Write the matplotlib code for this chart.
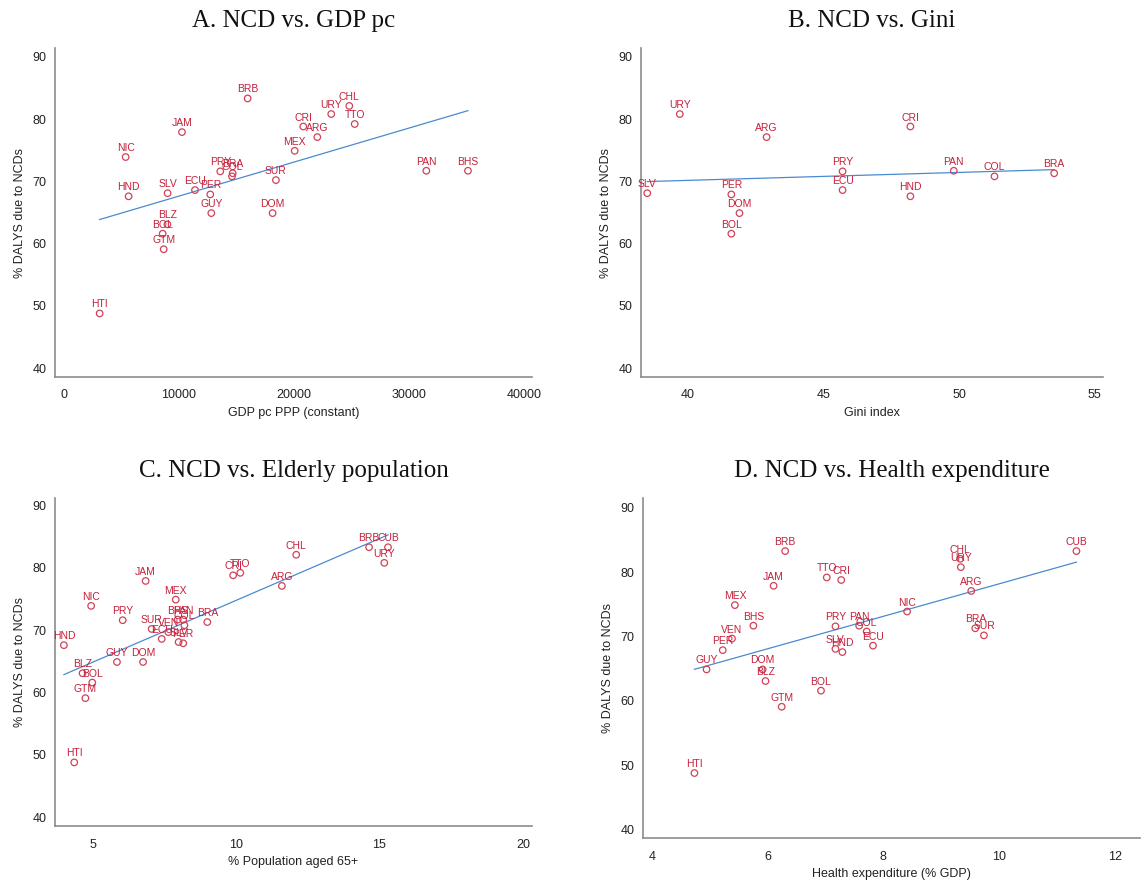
import numpy as np
import matplotlib
matplotlib.use("Agg")
import matplotlib.pyplot as plt

countries = ["ARG", "BHS", "BLZ", "BOL", "BRA", "BRB", "CHL", "COL", "CRI", "CUB",
             "DOM", "ECU", "GTM", "GUY", "HND", "HTI", "JAM", "MEX", "NIC", "PAN",
             "PER", "PRY", "SLV", "SUR", "TTO", "URY", "VEN"]
ncd_dalys = [77.1, 71.7, 63.1, 61.6, 71.3, 83.3, 82.1, 70.8, 78.8, 83.3,
             64.9, 68.6, 59.1, 64.9, 67.6, 48.8, 77.9, 74.9, 73.9, 71.7,
             67.9, 71.6, 68.1, 70.2, 79.2, 80.8, 69.7]
gdp_pc = [22030, 35130, 8990, 8580, 14670, 15970, 24810, 14610, 20810, None,
          18140, 11390, 8670, 12810, 5620, 3100, 10260, 20060, 5360, 31510,
          12720, 13590, 9010, 18430, 25280, 23240, None]
gini = [42.9, None, None, 41.6, 53.5, None, None, 51.3, 48.2, None,
        41.9, 45.7, None, None, 48.2, None, None, None, None, 49.8,
        41.6, 45.7, 38.5, None, None, 39.7, None]
elderly = [11.6, 7.97, 4.65, 4.99, 9.0, 14.64, 12.1, 8.2, 9.9, 15.3,
           6.76, 7.41, 4.75, 5.85, 4.0, 4.36, 6.85, 7.9, 4.95, 8.16,
           8.16, 6.05, 8.0, 7.06, 10.15, 15.17, 7.64]
health_exp = [9.52, 5.75, 5.96, 6.92, 9.59, 6.30, 9.33, 7.71, 7.27, 11.34,
              5.91, 7.82, 6.24, 4.94, 7.29, 4.73, 6.10, 5.43, 8.41, 7.58,
              5.22, 7.17, 7.17, 9.74, 7.02, 9.34, 5.38]

titles = ["A. NCD vs. GDP pc", "B. NCD vs. Gini",
          "C. NCD vs. Elderly population", "D. NCD vs. Health expenditure"]
xlabels = ["GDP pc PPP (constant)", "Gini index",
           "% Population aged 65+", "Health expenditure (% GDP)"]
ylabel = "% DALYS due to NCDs"
yticks = [40, 50, 60, 70, 80, 90]
xticks_list = [[0, 10000, 20000, 30000, 40000], [40, 45, 50, 55],
               [5, 10, 15, 20], [4, 6, 8, 10, 12]]

W, H = 1145, 889
fig = plt.figure(figsize=(W / 100, H / 100), dpi=100)

# axes boxes in pixels: left, top, right, bottom
boxes = [(55, 48, 532, 377), (641, 48, 1103, 377),
         (55, 498, 532, 826), (643, 498, 1140, 838)]
xlims = [(-783, 40700), (38.27, 55.3), (3.69, 20.32), (3.84, 12.44)]
ylims = [(38.6, 91.4), (38.6, 91.4), (38.6, 91.2), (38.7, 91.55)]
xdata = [gdp_pc, gini, elderly, health_exp]

red_text = "#C4203A"
red_marker = "#CF4257"
line_col = "#4A8AD0"
spine_col = "#8C8C8C"
sans = "Liberation Sans"
serif = "Liberation Serif"

for i in range(4):
    l, t, r, b = boxes[i]
    ax = fig.add_axes([l / W, 1 - b / H, (r - l) / W, (b - t) / H])
    xs, ys, labs = [], [], []
    for c, xv, yv in zip(countries, xdata[i], ncd_dalys):
        if xv is not None:
            xs.append(xv); ys.append(yv); labs.append(c)
    xs = np.array(xs, float); ys = np.array(ys, float)
    ax.scatter(xs, ys, s=22, facecolors="none", edgecolors=red_marker,
               linewidths=0.9, zorder=3)
    for x, y, lab in zip(xs, ys, labs):
        ax.annotate(lab, (x, y), xytext=(0, 4.3), textcoords="offset points",
                    ha="center", va="baseline", fontsize=7.5, color=red_text,
                    family=sans, zorder=4)
    k, c0 = np.polyfit(xs, ys, 1)
    xx = np.array([xs.min(), xs.max()])
    ax.plot(xx, k * xx + c0, color=line_col, lw=0.9, zorder=2)

    ax.set_xlim(*xlims[i]); ax.set_ylim(*ylims[i])
    ax.set_xticks(xticks_list[i]); ax.set_yticks(yticks)
    for s in ["top", "right"]:
        ax.spines[s].set_visible(False)
    for s in ["left", "bottom"]:
        ax.spines[s].set_color(spine_col)
        ax.spines[s].set_linewidth(1.2)
    ax.tick_params(axis="both", length=0, labelsize=9, colors="#222222")
    ax.tick_params(axis="x", pad=9)
    ax.tick_params(axis="y", pad=6)
    for lab in ax.get_xticklabels() + ax.get_yticklabels():
        lab.set_family(sans)
    ax.set_xlabel(xlabels[i], fontsize=9, family=sans, color="#222222", labelpad=4)
    ax.set_ylabel(ylabel, fontsize=9, family=sans, color="#222222", labelpad=5)
    ax.set_title(titles[i], fontsize=18, family=serif, pad=15, color="#111111")

fig.savefig("out.png", dpi=100, facecolor="white")
